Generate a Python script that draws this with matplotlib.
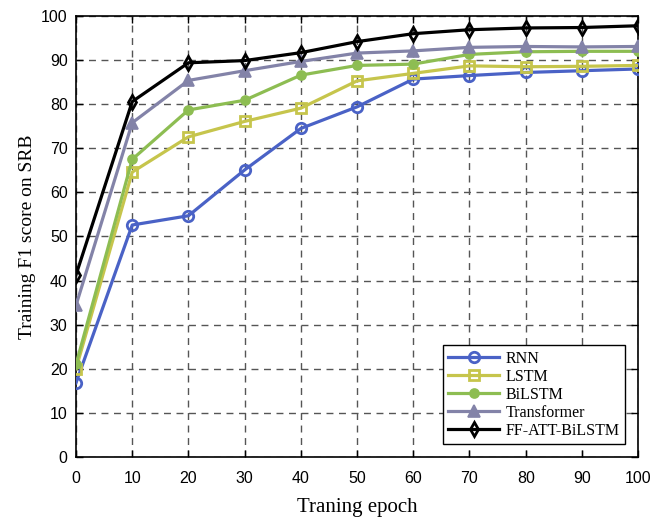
import matplotlib.pyplot as plt

epochs = [0, 10, 20, 30, 40, 50, 60, 70, 80, 90, 100]
rnn = [16.8, 52.6, 54.7, 65.1, 74.5, 79.4, 85.7, 86.5, 87.2, 87.6, 88.0]
lstm = [20.0, 64.6, 72.6, 76.1, 79.1, 85.3, 87.0, 88.7, 88.5, 88.6, 88.8]
bilstm = [21.0, 67.5, 78.7, 80.9, 86.6, 88.8, 89.1, 91.3, 91.9, 92.0, 92.0]
transformer = [34.4, 75.8, 85.4, 87.6, 89.7, 91.6, 92.1, 92.9, 93.1, 93.0, 93.1]
ff_att = [41.3, 80.6, 89.4, 89.9, 91.7, 94.2, 96.0, 96.9, 97.3, 97.4, 97.8]

plt.rcParams['font.family'] = ['Liberation Serif', 'DejaVu Serif']

fig = plt.figure(figsize=(6.64, 5.18), dpi=100)
ax = fig.add_axes([0.1145, 0.118, 0.8465, 0.851])

ax.plot(epochs, rnn, color='#4A62C6', lw=2.3, marker='o', ms=7.5,
        mfc='none', mew=2.0, label='RNN', zorder=3)
ax.plot(epochs, lstm, color='#C6C54C', lw=2.3, marker='s', ms=6.5,
        mfc='none', mew=2.0, label='LSTM', zorder=3)
ax.plot(epochs, bilstm, color='#8DBD52', lw=2.3, marker='o', ms=6.5,
        mfc='#8DBD52', mew=1.2, label='BiLSTM', zorder=3)
ax.plot(epochs, transformer, color='#8383A8', lw=2.3, marker='^', ms=8,
        mfc='#8383A8', mew=1.2, label='Transformer', zorder=3)
ax.plot(epochs, ff_att, color='black', lw=2.3, marker='d', ms=7.5,
        mfc='none', mew=2.0, label='FF-ATT-BiLSTM', zorder=4)

ax.set_xlim(0, 100)
ax.set_ylim(0, 100)
ax.set_xticks(range(0, 101, 10))
ax.set_yticks(range(0, 101, 10))
ax.tick_params(direction='in', top=True, right=True, labelsize=11.5, length=5, width=1)
ax.tick_params(axis='x', pad=10)
ax.tick_params(axis='y', pad=6)
for lbl in ax.get_xticklabels() + ax.get_yticklabels():
    lbl.set_family(['Liberation Sans', 'DejaVu Sans'])
ax.grid(True, linestyle=(0, (5, 4)), color='#555555', lw=1)
for s in ax.spines.values():
    s.set_linewidth(1.2)

ax.set_xlabel('Traning epoch', fontsize=15, labelpad=9)
ax.set_ylabel('Training F1 score on SRB', fontsize=14, labelpad=4)

leg = ax.legend(loc='lower right', fontsize=11.5, fancybox=False, framealpha=1,
                edgecolor='black', borderpad=0.35, labelspacing=0.12,
                handlelength=3.2, handletextpad=0.4, borderaxespad=0.8)
leg.get_frame().set_linewidth(1)

fig.savefig('out.png', dpi=100)
